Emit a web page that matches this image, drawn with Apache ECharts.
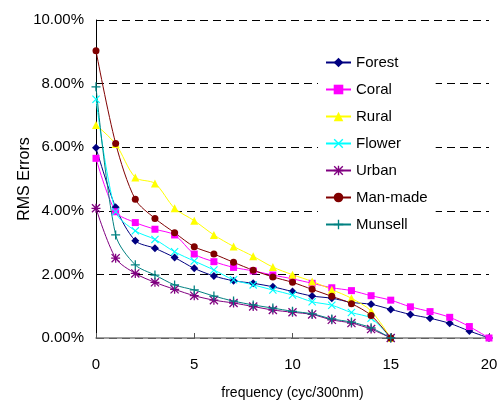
<!DOCTYPE html>
<html lang="en">
<head>
<meta charset="UTF-8">
<title>RMS Errors vs frequency</title>
<script src="https://cdn.jsdelivr.net/npm/echarts@6/dist/echarts.min.js"></script>
<style>
html, body { margin: 0; padding: 0; background: #fff; }
#chart { width: 497px; height: 403px; }
</style>
</head>
<body>
<div id="chart"></div>
<script>
// values in percent, index = frequency (cyc/300nm)
const forest = [5.98, 4.11, 3.06, 2.82, 2.53, 2.19, 1.95, 1.80, 1.72, 1.61, 1.46, 1.32, 1.25, 1.12, 1.06, 0.90, 0.74, 0.62, 0.46, 0.22, 0];
const coral = [5.65, 3.97, 3.63, 3.42, 3.24, 2.64, 2.40, 2.22, 2.11, 1.98, 1.86, 1.72, 1.58, 1.49, 1.33, 1.19, 0.98, 0.83, 0.65, 0.36, 0];
const rural = [6.70, 6.10, 5.05, 4.86, 4.08, 3.69, 3.24, 2.88, 2.57, 2.23, 1.99, 1.78, 1.52, 1.25, 0.85, 0];
const flower = [7.51, 3.97, 3.37, 3.10, 2.71, 2.42, 2.14, 1.83, 1.67, 1.51, 1.35, 1.14, 1.03, 0.80, 0.62, 0];
const urban = [4.08, 2.51, 2.03, 1.75, 1.53, 1.33, 1.19, 1.10, 0.99, 0.88, 0.81, 0.74, 0.57, 0.47, 0.28, 0];
const manMade = [9.03, 6.12, 4.36, 3.76, 3.31, 2.87, 2.64, 2.38, 2.13, 1.92, 1.75, 1.53, 1.31, 1.08, 0.71, 0];
const munsell = [7.90, 3.24, 2.30, 1.98, 1.67, 1.51, 1.32, 1.16, 1.04, 0.94, 0.84, 0.76, 0.60, 0.50, 0.32, 0];

const xTicks = [0, 5, 10, 15, 20];
const yTicks = [0, 2, 4, 6, 8, 10];

const plusPath = 'path://M4.3,0 L5.7,0 L5.7,10 L4.3,10 Z M0,4.3 L10,4.3 L10,5.7 L0,5.7 Z';
const xPath = 'path://M0,1 L1,0 L10,9 L9,10 Z M9,0 L10,1 L1,10 L0,9 Z';
const starPath = 'path://M4.3,0 L5.7,0 L5.7,10 L4.3,10 Z M0,4.3 L10,4.3 L10,5.7 L0,5.7 Z M0,1 L1,0 L10,9 L9,10 Z M9,0 L10,1 L1,10 L0,9 Z';

const sans = '"Liberation Sans", Arial, sans-serif';

function pts(arr) {
  return arr.map((v, i) => [i, v]);
}

function line(name, data, color, symbol, size) {
  return {
    name: name,
    type: 'line',
    data: pts(data),
    smooth: 0.3,
    symbol: symbol,
    symbolSize: size,
    showAllSymbol: true,
    lineStyle: { color: color, width: 1 },
    itemStyle: { color: color, borderWidth: 0 }
  };
}

const chart = echarts.init(document.getElementById('chart'));
chart.setOption({
  animation: false,
  backgroundColor: '#fff',
  grid: { left: 96, right: 8, top: 20, bottom: 65, containLabel: false, outerBoundsMode: 'none' },
  legend: {
    orient: 'vertical',
    left: 318,
    top: 45,
    backgroundColor: '#fff',
    padding: [10, 8, 8, 7],
    itemWidth: 25,
    itemHeight: 12,
    itemGap: 12,
    textStyle: { fontFamily: sans, fontSize: 15, color: '#000', lineHeight: 15 },
    data: ['Forest', 'Coral', 'Rural', 'Flower', 'Urban', 'Man-made', 'Munsell']
  },
  xAxis: {
    type: 'value',
    min: xTicks[0],
    max: xTicks[xTicks.length - 1],
    interval: 5,
    name: 'frequency (cyc/300nm)',
    nameLocation: 'middle',
    nameGap: 48,
    nameMoveOverlap: false,
    nameTextStyle: { fontFamily: sans, fontSize: 14, color: '#000' },
    axisLine: { lineStyle: { color: '#808080', width: 1.5 } },
    axisTick: { inside: true, length: 5, lineStyle: { color: '#555' } },
    axisLabel: { fontFamily: sans, fontSize: 15, color: '#000', margin: 19 },
    splitLine: { show: false }
  },
  yAxis: {
    type: 'value',
    min: yTicks[0],
    max: yTicks[yTicks.length - 1],
    interval: 2,
    name: 'RMS Errors',
    nameLocation: 'middle',
    nameGap: 63,
    nameMoveOverlap: false,
    nameTextStyle: { fontFamily: sans, fontSize: 16, color: '#000' },
    axisLine: { show: true, lineStyle: { color: '#000', width: 1 } },
    axisTick: { show: false },
    axisLabel: {
      fontFamily: sans, fontSize: 15, color: '#000', margin: 12,
      formatter: v => v.toFixed(2) + '%'
    },
    splitLine: { show: true, lineStyle: { color: '#000', type: [8, 5], width: 1 } }
  },
  series: [
    line('Forest', forest, '#000080', 'diamond', 8),
    line('Coral', coral, '#ff00ff', 'rect', 7),
    line('Rural', rural, '#ffff00', 'triangle', 8),
    line('Flower', flower, '#00ffff', xPath, 8),
    line('Urban', urban, '#800080', starPath, 9),
    line('Man-made', manMade, '#800000', 'circle', 7),
    line('Munsell', munsell, '#008080', plusPath, 9)
  ]
});
</script>
</body>
</html>
